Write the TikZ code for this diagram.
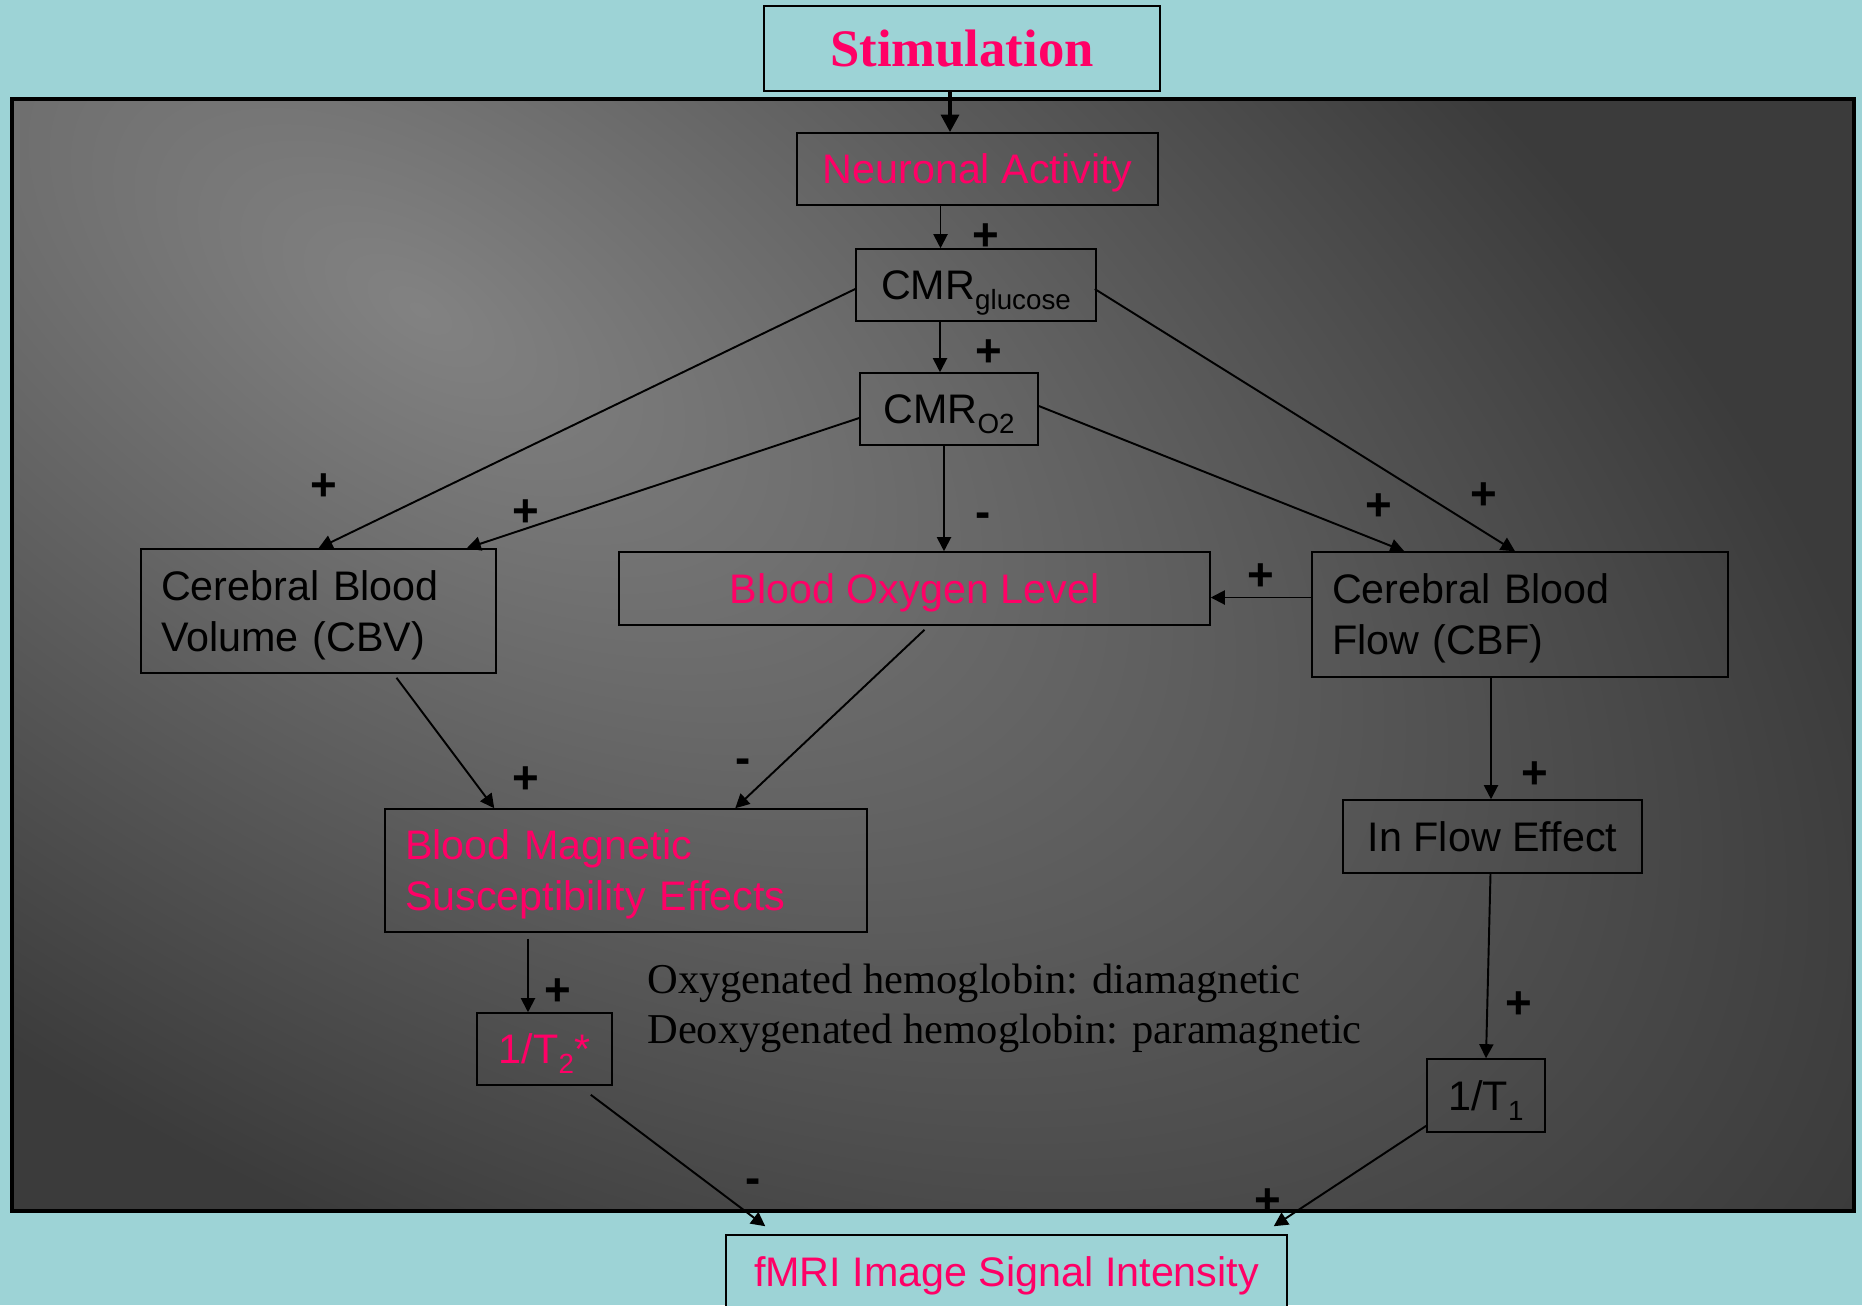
\documentclass[tikz,border=0pt]{standalone}
\usepackage{fontspec}
\setmainfont{Liberation Sans}
\newfontfamily\myserif{Liberation Serif}
\usetikzlibrary{arrows.meta,calc}
\definecolor{bgteal}{RGB}{157,211,214}
\definecolor{pinktxt}{RGB}{255,0,102}
\definecolor{panellight}{RGB}{130,130,130}
\definecolor{paneldark}{RGB}{59,59,59}
\pgfdeclareradialshading{panelglow}{\pgfpoint{0bp}{0bp}}{color(0bp)=(panellight); color(50bp)=(paneldark)}
\newcommand\txtsz{\fontsize{23.5}{29}\selectfont}
\newcommand\subsz{\fontsize{15.8}{18}\selectfont}
\newcommand\signsz{\fontsize{26}{30}\selectfont\bfseries}
\newcommand\stimsz{\fontsize{30}{34}\selectfont}
\newcommand\annsz{\fontsize{24.2}{28.4}\selectfont}
\newcommand\nodp[1]{\raisebox{0pt}[\height][0pt]{#1}}
\begin{document}
\begin{tikzpicture}[x=0.02cm,y=-0.02cm,
  box/.style={draw=black,line width=0.9pt,inner sep=0pt,font=\txtsz,text=black},
  onel/.style={text depth=0pt,text height=17pt},
  pinkbox/.style={box,text=pinktxt},
  arr/.style={line width=1.1pt,-{Triangle[length=8pt,width=8pt]}},
  bigarr/.style={line width=2.5pt,-{Triangle[length=10pt,width=10pt]}},
  sign/.style={font=\signsz,text=black,inner sep=0pt}]
\useasboundingbox (0,0) rectangle (1862,1305);
\clip (0,0) rectangle (1862,1305);
\fill[bgteal] (0,0) rectangle (1862,1305);
% panel
\begin{scope}
  \clip (12,99) rectangle (1854,1211);
  \fill[paneldark] (12,99) rectangle (1854,1211);
  \begin{scope}[shift={(420,310)}, rotate=-32, xscale=19.2, yscale=9.6]
    \pgflowlevelsynccm
    \pgfuseshading{panelglow}
  \end{scope}
\end{scope}
\draw[line width=2.4pt] (12,99) rectangle (1854,1211);

% nodes
\node[box,onel,fill=bgteal,minimum width=7.92cm,minimum height=1.70cm,font=\myserif\stimsz\bfseries,text=pinktxt,text height=20pt] (stim) at (962,48.5) {Stimulation};
\node[pinkbox,onel,minimum width=7.22cm,minimum height=1.44cm] (neur) at (977.5,169) {Neuronal Activity};
\node[box,onel,minimum width=4.80cm,minimum height=1.44cm] (cmrg) at (976,285) {CMR\raisebox{-0.45ex}{\subsz glucose}};
\node[box,onel,minimum width=3.56cm,minimum height=1.44cm] (cmro) at (949,409) {CMR\raisebox{-0.45ex}{\subsz O2}};
\node[box,minimum width=7.10cm,minimum height=2.48cm,text width=6.30cm,align=left] (cbv) at (318.5,611) {Cerebral Blood\\\nodp{Volume (CBV)}};
\node[pinkbox,onel,minimum width=11.82cm,minimum height=1.46cm] (bol) at (914.5,588.5) {Blood Oxygen Level};
\node[box,minimum width=8.32cm,minimum height=2.50cm,text width=7.52cm,align=left] (cbf) at (1520,614.5) {Cerebral Blood\\\nodp{Flow (CBF)}};
\node[pinkbox,minimum width=9.64cm,minimum height=2.46cm,text width=8.84cm,align=left] (bms) at (626,870.5) {Blood Magnetic\\\nodp{Susceptibility Effects}};
\node[box,onel,minimum width=5.98cm,minimum height=1.46cm] (infl) at (1492.5,836.5) {In Flow Effect};
\node[pinkbox,onel,minimum width=2.70cm,minimum height=1.44cm] (t2) at (544.5,1049) {1/T\raisebox{-0.45ex}{\subsz 2}*};
\node[box,onel,minimum width=2.36cm,minimum height=1.46cm] (t1) at (1486,1095.5) {1/T\raisebox{-0.45ex}{\subsz 1}};
\node[pinkbox,onel,fill=bgteal,minimum width=11.22cm,minimum height=1.48cm] (fmri) at (1006.5,1272) {fMRI Image Signal Intensity};

\node[anchor=west,align=left,font=\myserif\annsz,text=black,inner sep=0pt] (note) at (647,1008.5) {Oxygenated hemoglobin: diamagnetic\\Deoxygenated hemoglobin: paramagnetic};

% connectors
\coordinate (p1) at ($(stim.south)+(-12,0)$);
\draw[bigarr] (p1) -- (p1 |- neur.north);
\coordinate (p2) at ($(neur.south)+(-37,0)$);
\draw[arr] (p2) -- (p2 |- cmrg.north);
\coordinate (p3) at ($(cmrg.south)+(-36,0)$);
\draw[arr] (p3) -- (p3 |- cmro.north);
\draw[arr] ($(cmrg.west)+(0,4)$) -- (cbv.north);
\draw[arr] ($(cmro.west)+(0,9)$) -- ($(cbv.north east)+(-30,0)$);
\coordinate (p6) at ($(cmro.south)+(-5,0)$);
\draw[arr] (p6) -- (p6 |- bol.north);
\draw[arr] ($(cmro.east)+(0,-3)$) -- ($(cbf.north west)+(93,0)$);
\draw[arr] ($(cmrg.east)+(-2,4)$) -- ($(cbf.north)+(-5,0)$);
\coordinate (p9) at ($(cbf.west)+(0,-17)$);
\draw[arr] (p9) -- (p9 -| bol.east);
\draw[arr] ($(cbv.south)+(78,4)$) -- ($(bms.north west)+(110,0)$);
\draw[arr] ($(bol.south)+(10,4)$) -- ($(bms.north west)+(351,0)$);
\coordinate (p12) at ($(cbf.south)+(-29,0)$);
\draw[arr] (p12) -- (p12 |- infl.north);
\coordinate (p13) at ($(bms.south)+(-98,6)$);
\draw[arr] (p13) -- (p13 |- t2.north);
\draw[arr] ($(infl.south)+(-2,0)$) -- (t1.north);
\draw[arr] ($(t2.south east)+(-22,9)$) -- ($(fmri.north west)+(40,-8)$);
\draw[arr] ($(t1.south west)+(0,-7)$) -- ($(fmri.north east)+(-14,-8)$);

% signs
\node[sign] (s1) at (986,237) {+};
\node[sign] (s2) at (989,353) {+};
\node[sign] (s3) at (324,487) {+};
\node[sign] (s4) at (526,513) {+};
\node[sign] (s5) at (1379,507) {+};
\node[sign] (s6) at (1484,496) {+};
\node[sign] (s7) at (1261,577) {+};
\node[sign] (s8) at (526,780) {+};
\node[sign] (s9) at (1535,775) {+};
\node[sign] (s10) at (558,992) {+};
\node[sign] (s11) at (1519,1005) {+};
\node[sign] (s12) at (1268,1202) {+};
\node[sign] (m1) at (983,520) {-};
\node[sign] (m2) at (743,766) {-};
\node[sign] (m3) at (753,1186) {-};
\end{tikzpicture}
\end{document}
